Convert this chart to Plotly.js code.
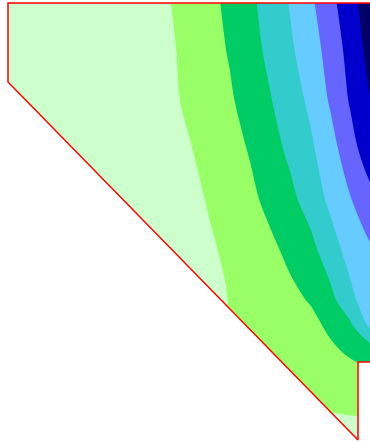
<!DOCTYPE html>
<html>
<head>
<meta charset="utf-8">
<script src="https://cdn.plot.ly/plotly-3.0.1.min.js"></script>
<style>html,body{margin:0;padding:0;background:#fff;}#chart{width:370px;height:442px;}</style>
</head>
<body>
<div id="chart"></div>
<script>
// Grid coordinates of the sampled field
const gridX = [0, 150, 170, 190, 210, 230, 250, 270, 290, 310, 330, 350, 370, 390];
const gridY = [0, 50, 100, 150, 200, 250, 300, 325, 350, 375, 400, 420, 445];

// Field values (one row per gridY)
const row0   = [0, 0.62, 0.99, 1.38, 1.77, 2.23, 2.80, 3.42, 4.07, 4.81, 5.71, 6.64, 7.55, 8.4];
const row50  = [0, 0.49, 0.88, 1.27, 1.67, 2.08, 2.64, 3.22, 3.84, 4.54, 5.35, 6.35, 7.32, 8.2];
const row100 = [0, 0.46, 0.82, 1.18, 1.54, 1.89, 2.39, 2.94, 3.53, 4.18, 5.10, 6.09, 6.98, 7.9];
const row150 = [0, 0.22, 0.58, 0.95, 1.31, 1.67, 2.06, 2.61, 3.19, 3.81, 4.58, 5.59, 6.57, 7.4];
const row200 = [0, 0.10, 0.38, 0.73, 1.09, 1.45, 1.80, 2.23, 2.74, 3.40, 4.19, 4.93, 5.69, 6.4];
const row250 = [0, 0.00, 0.25, 0.56, 0.88, 1.19, 1.50, 1.81, 2.20, 2.68, 3.54, 4.36, 4.87, 5.3];
const row300 = [0, 0.00, 0.28, 0.52, 0.78, 1.03, 1.28, 1.53, 1.78, 2.06, 2.69, 3.71, 4.62, 5.2];
const row325 = [0, 0.30, 0.50, 0.70, 0.90, 1.05, 1.20, 1.35, 1.50, 1.75, 2.17, 2.83, 4.20, 4.8];
const row350 = [1.2, 1.2, 1.2, 1.2, 1.2, 1.25, 1.30, 1.40, 1.55, 1.70, 1.85, 2.15, 2.50, 2.8];
const row375 = [1.4, 1.4, 1.4, 1.4, 1.4, 1.40, 1.45, 1.50, 1.50, 1.55, 1.60, 1.70, 1.80, 1.8];
const row400 = [1.4, 1.4, 1.4, 1.4, 1.4, 1.40, 1.40, 1.40, 1.40, 1.35, 1.25, 1.35, 1.40, 1.4];
const row420 = [1.2, 1.2, 1.2, 1.2, 1.2, 1.20, 1.20, 1.15, 1.10, 0.95, 0.85, 0.90, 0.90, 0.9];
const row445 = [0.5, 0.5, 0.5, 0.5, 0.5, 0.5, 0.5, 0.5, 0.5, 0.5, 0.5, 0.5, 0.5, 0.5];
const fieldZ = [row0, row50, row100, row150, row200, row250, row300, row325, row350, row375, row400, row420, row445];

// Band colours, lowest to highest
const bandColors = ['#ccffcc', '#99ff66', '#00cc66', '#33cccc', '#66ccff', '#6666ff', '#0000cc', '#000066'];

// Domain outline
const boundaryX = [390, 8, 8, 358, 358, 390];
const boundaryY = [3, 3, 82, 440, 362, 362];

const far = 500, nearNeg = -30;
const colorscale = bandColors.map((c, i) => [i / (bandColors.length - 1), c]);

const maskX = [nearNeg, boundaryX[1], boundaryX[2], boundaryX[3], boundaryX[3], nearNeg, null,
               nearNeg, far, far, nearNeg, null,
               boundaryX[4], far, far, boundaryX[4]];
const maskY = [boundaryY[1], boundaryY[1], boundaryY[2], boundaryY[3], far, far, null,
               nearNeg, nearNeg, boundaryY[0], boundaryY[0], null,
               boundaryY[4], boundaryY[5], far, far];

const traces = [
  {
    type: 'contour', x: gridX, y: gridY, z: fieldZ,
    colorscale: colorscale, showscale: false, hoverinfo: 'skip',
    contours: {start: 1, end: 7, size: 1, coloring: 'fill', showlines: false},
    line: {width: 0}
  },
  {
    type: 'scatter', mode: 'lines', x: maskX, y: maskY, fill: 'toself',
    fillcolor: '#ffffff', line: {width: 0, color: '#ffffff'}, hoverinfo: 'skip'
  },
  {
    type: 'scatter', mode: 'lines', x: boundaryX, y: boundaryY,
    line: {color: '#ff0000', width: 1.5}, hoverinfo: 'skip'
  }
];

const layout = {
  width: 370, height: 442,
  margin: {l: 0, r: 0, t: 0, b: 0},
  paper_bgcolor: '#ffffff', plot_bgcolor: '#ffffff',
  showlegend: false,
  xaxis: {range: [0, 370], visible: false, fixedrange: true},
  yaxis: {range: [442, 0], visible: false, fixedrange: true}
};

Plotly.newPlot('chart', traces, layout, {displayModeBar: false, staticPlot: true});
</script>
</body>
</html>
